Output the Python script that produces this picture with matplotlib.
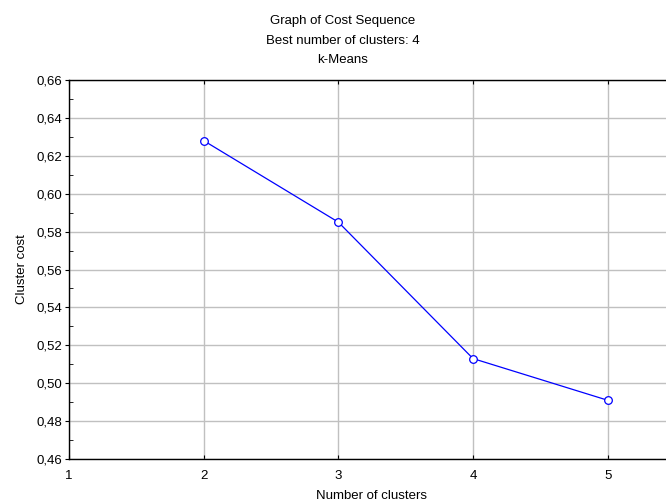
"""Cost sequence line chart (k-Means)."""

import matplotlib
matplotlib.use("Agg")
import matplotlib.pyplot as plt
from matplotlib.ticker import FuncFormatter, MultipleLocator

plt.rcParams["font.family"] = ["Liberation Sans", "DejaVu Sans"]

# Data.
N_CLUSTERS = [2, 3, 4, 5]
CLUSTER_COST = [0.628, 0.585, 0.513, 0.491]

TITLE_LINES = ["Graph of Cost Sequence", "Best number of clusters: 4", "k-Means"]
X_LABEL = "Number of clusters"
Y_LABEL = "Cluster cost"

FONT_SIZE = 9.5
LINE_COLOR = "#0000ff"
GRID_COLOR = "#c0c0c0"


def _comma(v, _pos):
    return f"{v:.2f}".replace(".", ",")


def _main() -> None:
    fig = plt.figure(figsize=(6.66, 5.04), dpi=100)
    ax = fig.add_axes([69 / 666, 45 / 504, 606 / 666, 379 / 504])

    ax.plot(N_CLUSTERS, CLUSTER_COST, color=LINE_COLOR, linewidth=0.9,
            marker="o", markersize=5.5, markerfacecolor="white",
            markeredgecolor=LINE_COLOR, markeredgewidth=0.9, zorder=3)

    ax.set_xlim(1, 5.5)
    ax.set_ylim(0.46, 0.66)
    ax.xaxis.set_major_locator(MultipleLocator(1))
    ax.yaxis.set_major_locator(MultipleLocator(0.02))
    ax.yaxis.set_minor_locator(MultipleLocator(0.01))
    ax.xaxis.set_major_formatter(FuncFormatter(lambda v, p: f"{v:.0f}"))
    ax.yaxis.set_major_formatter(FuncFormatter(_comma))

    ax.grid(True, color=GRID_COLOR, linewidth=1.0)
    ax.set_axisbelow(True)

    for side in ("left", "bottom", "top"):
        ax.spines[side].set_color("black")
        ax.spines[side].set_linewidth(1.0)
    ax.spines["right"].set_visible(False)

    ax.tick_params(axis="y", which="major", direction="out", length=3,
                   labelsize=FONT_SIZE, pad=2)
    ax.tick_params(axis="y", which="minor", direction="in", length=3)
    ax.tick_params(axis="x", which="major", direction="in", length=3,
                   top=True, labelsize=FONT_SIZE, pad=8)

    ax.set_xlabel(X_LABEL, fontsize=FONT_SIZE, labelpad=6)
    ax.set_ylabel(Y_LABEL, fontsize=FONT_SIZE, labelpad=6)

    for i, line in enumerate(TITLE_LINES):
        fig.text(343 / 666, 1 - (21 + 19.5 * i) / 504, line,
                 fontsize=FONT_SIZE, ha="center", va="center")

    fig.savefig("out.png", dpi=100)


if __name__ == "__main__":
    _main()
